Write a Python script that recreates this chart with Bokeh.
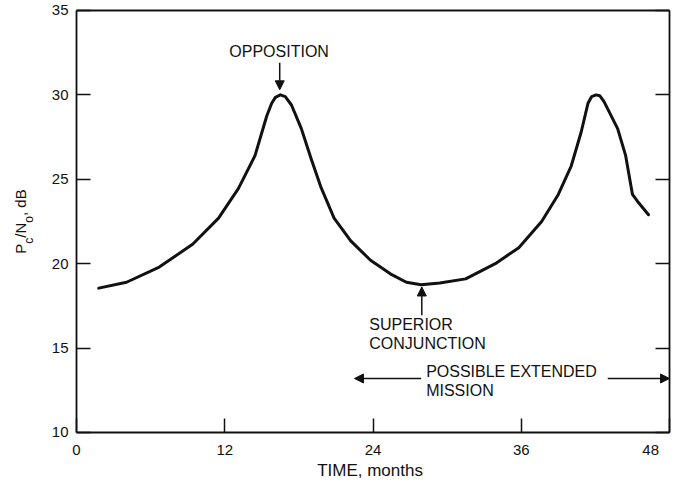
from bokeh.plotting import figure
from bokeh.models import Range1d, FixedTicker, LinearAxis, Label, Arrow, NormalHead
from bokeh.embed import file_html
from bokeh.resources import INLINE
import math

# ---- data ----
time_months = [1.8, 4.05, 6.7, 9.4, 11.5, 13.1, 14.45, 15.4, 15.8, 16.1, 16.5, 16.9, 17.4,
               18.2, 19.0, 19.8, 20.85, 22.2, 23.8, 25.4, 26.7, 27.9, 29.4, 31.5, 33.9,
               35.8, 37.65, 39.0, 40.05, 40.85, 41.4, 41.7, 42.05, 42.35, 42.7, 43.8,
               44.45, 45.0, 45.4, 46.3]
pc_no_db = [18.55, 18.9, 19.8, 21.15, 22.7, 24.45, 26.4, 28.75, 29.5, 29.85, 30.0, 29.9, 29.4,
            28.0, 26.2, 24.5, 22.7, 21.35, 20.2, 19.4, 18.9, 18.75, 18.85, 19.1, 20.0,
            20.95, 22.5, 24.1, 25.8, 27.8, 29.5, 29.9, 30.0, 29.95, 29.6, 28.0,
            26.4, 24.1, 23.7, 22.9]
x_ticks = [0, 12, 24, 36, 48]
y_ticks = [10, 15, 20, 25, 30, 35]
x_min, x_max = 0, 48
y_min, y_max = 10, 35

FONT = "Liberation Sans"
INK = "#111111"

# the frame fills the whole canvas; axes sit at fixed data locations
p = figure(width=671, height=485, x_range=Range1d(-6.15, 48.16), y_range=Range1d(6.86, 35.59),
           output_backend="svg", toolbar_location=None,
           x_axis_location=None, y_axis_location=None, min_border=0)
p.grid.visible = False
p.outline_line_color = None
p.background_fill_color = "white"
p.border_fill_color = "white"


def make_axis(loc, ticks, bounds, show_labels, tick_len=14, standoff=8):
    ax = LinearAxis(fixed_location=loc, ticker=FixedTicker(ticks=ticks), bounds=bounds,
                    major_tick_in=tick_len, major_tick_out=0, minor_tick_line_color=None,
                    axis_line_color=INK, axis_line_width=1.8,
                    major_tick_line_color=INK, major_tick_line_width=1.5,
                    major_label_text_font=FONT, major_label_text_font_size="15px",
                    major_label_standoff=standoff)
    ax.major_label_text_color = INK if show_labels else None
    return ax


bottom = make_axis(y_min, x_ticks, (x_min, x_max), True, standoff=9)
bottom.major_label_overrides = {48: "48\u00a0\u00a0\u00a0"}
left = make_axis(x_min, y_ticks, (y_min, y_max), True, standoff=8)
right = make_axis(x_max, y_ticks, (y_min, y_max), False)
top = make_axis(y_max, [], (x_min, x_max), False, tick_len=0)
p.add_layout(bottom, "below")
p.add_layout(left, "left")
p.add_layout(right, "right")
p.add_layout(top, "above")

# curve
p.line(time_months, pc_no_db, line_color=INK, line_width=3, line_join="round", line_cap="round")


def label(x, y, text, size, align="left", baseline="middle", angle=0.0):
    p.add_layout(Label(x=x, y=y, text=text, text_font=FONT, text_font_size=f"{size}px",
                       text_color=INK, text_align=align, text_baseline=baseline, angle=angle))


# x-axis title
label(23.76, 7.72, "TIME, months", 17, align="center")

# y-axis title with subscripts, rotated
PX_PER_DB = 16.88
y_start = 20.59
main_x, sub_x = -4.53, -3.85
for txt, size, along, is_sub in [("P", 15, 0.0, False), ("c", 12, 10.0, True), ("/N", 15, 16.0, False),
                                 ("o", 12, 31.0, True), (", dB", 15, 37.7, False)]:
    label(sub_x if is_sub else main_x, y_start + along / PX_PER_DB, txt, size,
          align="left", baseline="alphabetic", angle=math.pi / 2)


def arrow(x0, y0, x1, y1):
    p.add_layout(Arrow(x_start=x0, y_start=y0, x_end=x1, y_end=y1, line_color=INK, line_width=1.5,
                       end=NormalHead(size=9, fill_color=INK, line_color=INK, line_width=1)))


# annotations
label(16.4, 32.55, "OPPOSITION", 16, align="center")
arrow(16.45, 31.9, 16.45, 30.3)

label(23.7, 16.42, "SUPERIOR", 16)
label(23.7, 15.25, "CONJUNCTION", 16)
arrow(27.95, 16.95, 27.95, 18.62)

label(28.3, 13.64, "POSSIBLE EXTENDED", 16)
label(28.3, 12.5, "MISSION", 16)
arrow(27.9, 13.2, 22.5, 13.2)
arrow(43.0, 13.2, 48.0, 13.2)

open("out.html", "w").write(file_html(p, INLINE))
